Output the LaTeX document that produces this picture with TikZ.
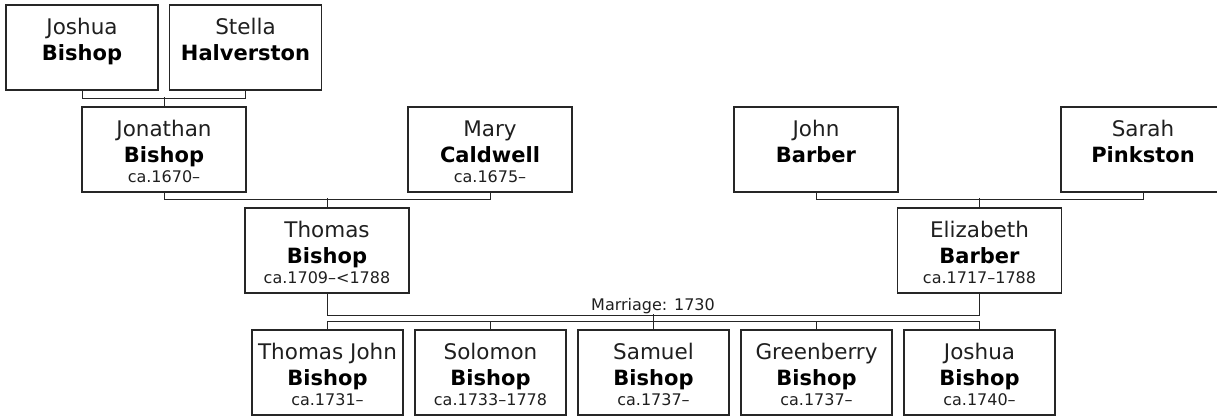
\documentclass[tikz,border=0pt]{standalone}
\usepackage{fontspec}
\setmainfont{DejaVu Sans}
\newcommand\famperson[3]{\vbox to 85pt{\offinterlineskip\kern29.5pt
 \hbox to 0pt{\hss\smash{\fontsize{21.5}{25}\selectfont\color{black!88}#1}\hss}\kern25.5pt
 \hbox to 0pt{\hss\smash{\fontsize{21}{25}\selectfont\bfseries #2}\hss}\kern20pt
 \hbox to 0pt{\hss\smash{\fontsize{16}{19}\selectfont\color{black!88}#3}\hss}\vss}}
\tikzset{
 pbox/.style={rectangle, draw=black!85, line width=1.3pt, minimum height=85pt, inner sep=0pt, text=black},
 genbox/.style={pbox, minimum width=164pt},
 topbox/.style={pbox, minimum width=152pt},
 kidbox/.style={pbox, minimum width=151pt},
 conn/.style={draw=black!85, line width=1pt},
 lbl/.style={anchor=base, inner sep=0pt, font=\fontsize{16}{19}\selectfont, text=black!88}
}
\begin{document}
\begin{tikzpicture}[x=1pt,y=-1pt]
\useasboundingbox (0,0) rectangle (1217,416);
\clip (0,0) rectangle (1217,416);
% generation 0
\node[topbox] (jb) at (82,47.5) {\famperson{Joshua}{Bishop}{}};
\node[topbox] (sh) at (245.5,47.5) {\famperson{Stella}{Halverston}{}};
% generation 1
\node[genbox] (jon) at (164,149.5) {\famperson{Jonathan}{Bishop}{ca.1670–}};
\node[genbox] (mary) at (490,149.5) {\famperson{Mary}{Caldwell}{ca.1675–}};
\node[genbox] (john) at (816,149.5) {\famperson{John}{Barber}{}};
\node[genbox] (sarah) at (1143,149.5) {\famperson{Sarah}{Pinkston}{}};
% generation 2
\node[genbox] (tb) at (327,250.5) {\famperson{Thomas}{Bishop}{ca.1709–<1788}};
\node[genbox] (eb) at (979.5,250.5) {\famperson{Elizabeth}{Barber}{ca.1717–1788}};
% children
\node[kidbox] (c1) at (327.5,372.5) {\famperson{Thomas John}{Bishop}{ca.1731–}};
\node[kidbox] (c2) at (490.5,372.5) {\famperson{Solomon}{Bishop}{ca.1733–1778}};
\node[kidbox] (c3) at (653.5,372.5) {\famperson{Samuel}{Bishop}{ca.1737–}};
\node[kidbox] (c4) at (816.5,372.5) {\famperson{Greenberry}{Bishop}{ca.1737–}};
\node[kidbox] (c5) at (979.5,372.5) {\famperson{Joshua}{Bishop}{ca.1740–}};
% marriage label
\node[lbl] (marr) at (653,310) {Marriage: 1730};
% connectors
\draw[conn] (jb.south) -- ++(0,8) -| (sh.south);
\draw[conn] (jon.north) -- ++(0,-9);
\draw[conn] (jon.south) -- ++(0,7) -| (mary.south);
\draw[conn] (tb.north) -- ++(0,-9);
\draw[conn] (john.south) -- ++(0,7) -| (sarah.south);
\draw[conn] (eb.north) -- ++(0,-9);
\draw[conn] (tb.south) -- ++(0,22) -| (eb.south);
\draw[conn] (c3.north) -- ++(0,-15);
\draw[conn] (c1.north) -- ++(0,-8) -| (c5.north);
\draw[conn] (c2.north) -- ++(0,-8);
\draw[conn] (c4.north) -- ++(0,-8);
\end{tikzpicture}
\end{document}
